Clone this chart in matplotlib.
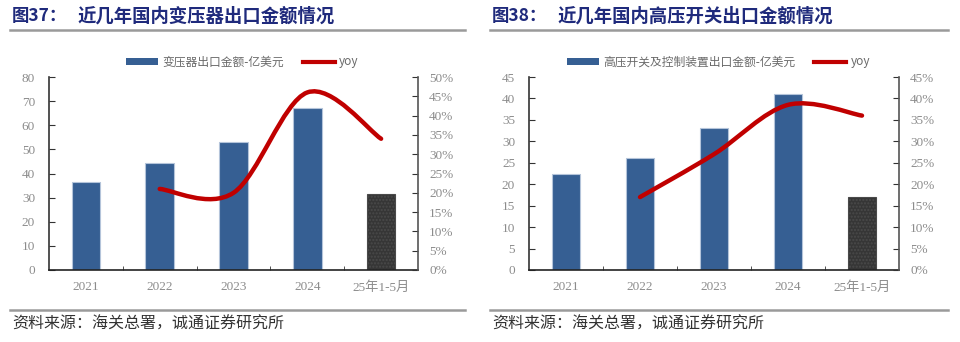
import numpy as np
import matplotlib.pyplot as plt
from matplotlib.path import Path
from matplotlib.patches import PathPatch, Patch
from matplotlib.lines import Line2D

plt.rcParams['font.family'] = ['Noto Sans CJK SC', 'DejaVu Sans']

categories = ['2021', '2022', '2023', '2024', '25年1-5月']

# 变压器出口金额（亿美元）及同比
transformer_export = [36.5, 44.4, 53.2, 67.0, 31.5]
transformer_yoy = [21.0, 20.0, 46.0, 34.0]  # 2022 起

# 高压开关及控制装置出口金额（亿美元）及同比
switch_export = [22.3, 26.1, 33.1, 41.0, 17.1]
switch_yoy = [17.0, 27.0, 38.5, 36.0]  # 2022 起

BLUE = '#365f93'
DARK = '#363636'
RED = '#c00000'
GREY = '#8c8c8c'
NAVY = '#1f2a7c'
SERIF = ['Liberation Serif', 'Noto Sans CJK SC']


def smooth_path(xs, ys):
    # Catmull-Rom style bezier through the points, like a spreadsheet smoothed line
    pts = np.column_stack([xs, ys]).astype(float)
    n = len(pts)
    verts = [pts[0]]
    codes = [Path.MOVETO]
    for i in range(n - 1):
        p_prev = pts[max(i - 1, 0)]
        p_next2 = pts[min(i + 2, n - 1)]
        c1 = pts[i] + (pts[i + 1] - p_prev) / 6
        c2 = pts[i + 1] - (p_next2 - pts[i]) / 6
        verts += [c1, c2, pts[i + 1]]
        codes += [Path.CURVE4] * 3
    return Path(verts, codes)


def draw_panel(fig, rect, values, yoy, ymax, ystep, rmax, legend_label, legend_x):
    ax = fig.add_axes(rect)
    x = np.arange(len(categories))
    colors = [BLUE] * (len(values) - 1) + [DARK]
    bars = ax.bar(x, values, width=0.39, color=colors, edgecolor='#b4c4da', linewidth=0.8, zorder=2)
    bars[-1].set_hatch('.....')
    bars[-1].set_edgecolor('#4a4a4a')

    ax.set_xlim(-0.5, len(categories) - 0.5)
    ax.set_ylim(0, ymax)
    ax.set_yticks(np.arange(0, ymax + 0.1, ystep))
    ax.set_xticks(x)
    ax.set_xticklabels(categories, family=SERIF, fontsize=9.5, color=GREY)
    ax.set_xticks(np.arange(0.5, len(categories) - 1, 1.0), minor=True)
    ax.tick_params(axis='x', which='major', length=0, pad=8)
    ax.tick_params(axis='x', which='minor', direction='in', length=3, color='#333333')
    ax.tick_params(axis='y', direction='in', length=4, color='#333333', labelcolor=GREY,
                   labelsize=9.5, pad=10)
    for lab in ax.get_yticklabels():
        lab.set_family(SERIF)
    ax.spines['top'].set_visible(False)
    ax.spines['right'].set_visible(False)
    ax.spines['left'].set_color('#333333')
    ax.spines['bottom'].set_color('#222222')
    ax.spines['left'].set_linewidth(1.2)
    ax.spines['bottom'].set_linewidth(1.2)

    ax2 = ax.twinx()
    ax2.set_ylim(0, rmax)
    ax2.set_yticks(np.arange(0, rmax + 0.1, 5))
    ax2.set_yticklabels([f'{v:.0f}%' for v in np.arange(0, rmax + 0.1, 5)], family=SERIF)
    ax2.tick_params(axis='y', direction='in', length=4, color='#333333', labelcolor=GREY,
                    labelsize=9.5, pad=8)
    for s in ['top', 'left', 'bottom']:
        ax2.spines[s].set_visible(False)
    ax2.spines['right'].set_color('#555555')
    ax2.spines['right'].set_linewidth(1.2)
    ax2.add_patch(PathPatch(smooth_path(x[1:], yoy), facecolor='none', edgecolor=RED,
                            linewidth=3.2, capstyle='round', zorder=3))

    handles = [Patch(facecolor=BLUE, edgecolor='none'), Line2D([], [], color=RED, lw=3)]
    fig.legend(handles, [legend_label, 'yoy'], loc='center left',
               bbox_to_anchor=(legend_x, 1 - 62 / 342), ncol=2, frameon=False,
               fontsize=8.5, labelcolor='#6a6a6a', handlelength=2.7, handleheight=0.5,
               handletextpad=0.4, columnspacing=1.6)
    return ax


fig = plt.figure(figsize=(9.6, 3.42), dpi=100)

draw_panel(fig, [49 / 960, 72 / 342, 369 / 960, 193 / 342], transformer_export, transformer_yoy,
           80, 10, 50, '变压器出口金额-亿美元', 115 / 960)
draw_panel(fig, [529 / 960, 72 / 342, 370 / 960, 193 / 342], switch_export, switch_yoy,
           45, 5, 45, '高压开关及控制装置出口金额-亿美元', 556 / 960)

# 标题、分隔线与资料来源
for x0, x1, num, title in [(12, 465, '图37：', '近几年国内变压器出口金额情况'),
                           (492, 948, '图38：', '近几年国内高压开关出口金额情况')]:
    fig.text(x0 / 960, 1 - 16 / 342, num, fontsize=12.5, weight='bold', color=NAVY, va='center')
    fig.text((x0 + 66) / 960, 1 - 16 / 342, title, fontsize=13.2, weight='bold', color=NAVY,
             va='center')
    fig.add_artist(Line2D([x0 / 960 - 0.002, x1 / 960], [1 - 30 / 342] * 2, color='#9a9a9a', lw=1.8))
    fig.add_artist(Line2D([x0 / 960 - 0.002, x1 / 960], [1 - 310 / 342] * 2, color='#9a9a9a', lw=1.8))
    fig.text(x0 / 960, 1 - 324 / 342, '资料来源：海关总署，诚通证券研究所', fontsize=11.5,
             color='#333333', va='center')

fig.savefig('out.png', dpi=100, facecolor='white')
